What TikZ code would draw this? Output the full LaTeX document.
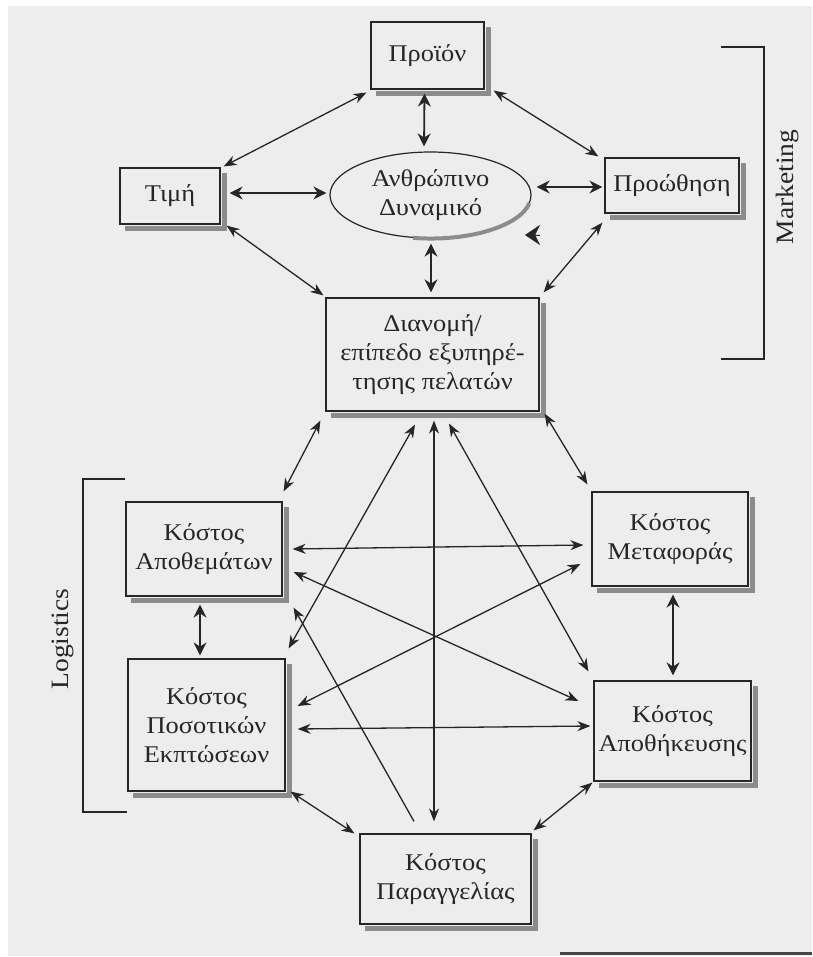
\documentclass[tikz,border=0pt]{standalone}
\usepackage{fontspec}
\setmainfont{Liberation Serif}[FakeStretch=1.1]
\usetikzlibrary{arrows.meta,calc,shapes.geometric}
\definecolor{paper}{RGB}{237,237,237}
\definecolor{ink}{RGB}{38,38,38}
\definecolor{shade}{RGB}{140,140,140}
\newcommand\dropshade[1]{%
  \draw[shadowline] ([xshift=3.6pt,yshift=-6pt]#1.north east) -- ([xshift=3.6pt,yshift=-3.6pt]#1.south east) -- ([xshift=6pt,yshift=-3.6pt]#1.south west);}
\begin{document}
\begin{tikzpicture}[x=1pt,y=-1pt,
  box/.style={draw=ink, line width=1.2pt, fill=paper, inner sep=0pt, align=center,
    text=ink, font=\fontsize{24}{29}\selectfont},
  oval/.style={box, ellipse},
  link/.style={draw=ink, line width=1.3pt, {Stealth[length=13pt,width=10pt]}-{Stealth[length=13pt,width=10pt]}},
  boldlink/.style={draw=ink, line width=1.8pt, {Stealth[length=13pt,width=13pt]}-{Stealth[length=13pt,width=13pt]}},
  onelink/.style={draw=ink, line width=1.3pt, -{Stealth[length=13pt,width=10pt]}},
  bracket/.style={draw=ink, line width=1.2pt},
  side/.style={text=ink, font=\fontsize{25}{28}\selectfont, rotate=90},
  shadowline/.style={draw=shade, line width=5pt}
]
\useasboundingbox (0,0) rectangle (812,957);
\fill[white] (0,0) rectangle (812,957);
\fill[paper] (8,6) rectangle (812,956);
\fill[ink!85] (560,952) rectangle (812,955);

% Marketing group
\node[box, minimum width=113pt, minimum height=67pt] (prod) at (427.5,55.5) {Προϊόν};
\node[box, minimum width=100pt, minimum height=56pt] (price) at (170,196) {Τιμή};
\node[box, minimum width=134pt, minimum height=55pt] (promo) at (672,185.5) {Προώθηση};
\node[oval, minimum width=201pt, minimum height=86pt] (hr) at (430.5,195) {Ανθρώπινο\\Δυναμικό};
\node[box, minimum width=213pt, minimum height=113pt] (dist) at (432.5,354.5) {Διανομή/\\επίπεδο εξυπηρέ-\\τησης πελατών};

% Logistics group
\node[box, minimum width=156pt, minimum height=94pt] (inv) at (204,549) {Κόστος\\Αποθεμάτων};
\node[box, minimum width=157pt, minimum height=132pt] (disc) at (206.5,725) {Κόστος\\Ποσοτικών\\Εκπτώσεων};
\node[box, minimum width=156pt, minimum height=94pt] (trans) at (670,539) {Κόστος\\Μεταφοράς};
\node[box, minimum width=157pt, minimum height=100pt] (store) at (672.5,731) {Κόστος\\Αποθήκευσης};
\node[box, minimum width=171pt, minimum height=90pt] (order) at (445.5,879) {Κόστος\\Παραγγελίας};

% drop shadows: strips along right and bottom edges
\dropshade{prod}
\dropshade{price}
\dropshade{promo}
\dropshade{dist}
\dropshade{inv}
\dropshade{disc}
\dropshade{trans}
\dropshade{store}
\dropshade{order}
\draw[shadowline, line width=4pt] ($(hr.center)+(99,8)$) arc[start angle=-10, end angle=-100, x radius=100.5, y radius=-43];

% side labels and brackets
\node[side] (mkt) at (788,187) {Marketing};
\node[side] (lgs) at (63,639) {Logistics};
\draw[bracket] (721,47) -- (764,47) -- (764,359) -- (721,359);
\draw[bracket] (125,479) -- (83,479) -- (83,812) -- (127,812);

% top connectors
\draw[link] ($(prod.south west)+(-4,3)$) -- ($(price.north east)+(3,-1)$);
\draw[boldlink] ($(price.east)+(9,-3)$) -- ($(hr.west)+(-3,-2)$);
\draw[link] ($(price.south east)+(6,1)$) -- ($(dist.north west)+(-2,-2)$);
\draw[boldlink] ($(prod.south)+(-3,4)$) -- ($(hr.north)+(-6.5,-5)$);
\draw[link] ($(prod.south east)+(9,1)$) -- ($(promo.north west)+(-6,-1)$);
\draw[boldlink] ($(hr.east)+(5,-8)$) -- ($(promo.west)+(-2,1.5)$);
\draw[link] ($(promo.south west)+(-2,9)$) -- ($(dist.north east)+(4,-5)$);
\draw[boldlink] ($(hr.south)+(0.5,5)$) -- ($(dist.north)+(-1.5,-5)$);
\coordinate (strayback) at (540,235);
\coordinate (straytip) at (525,235);
\draw[draw=ink, fill=ink, -{Stealth[length=15pt,width=20pt]}] (strayback) -- (straytip);

% bottom connectors
\draw[link] ($(dist.south west)+(-5,9)$) -- ($(inv.north east)+(1,-10)$);
\draw[link] ($(dist.south east)+(5,2)$) -- ($(trans.north west)+(-4,-7)$);
\draw[link] ($(inv.east)+(10,0)$) -- ($(trans.west)+(-8,6)$);
\draw[link] ($(inv.east)+(11,23)$) -- ($(store.west)+(-15,-30)$);
\draw[link] ($(disc.east)+(12,-19)$) -- ($(trans.west)+(-11,25)$);
\draw[link] ($(disc.east)+(12,4)$) -- ($(store.west)+(-3,-5)$);
\draw[boldlink] ($(inv.south)+(-4,8)$) -- ($(disc.north)+(-6.5,-3)$);
\draw[boldlink] ($(trans.south)+(3,8)$) -- ($(store.north)+(0.5,-5)$);
\draw[link] ($(disc.south east)+(5,0)$) -- ($(order.north west)+(-5,0)$);
\draw[link] ($(store.south west)+(-1,1)$) -- ($(order.north east)+(2,-3)$);
\draw[link] ($(dist.south)+(-17.5,13)$) -- ($(disc.north east)+(3,-10)$);
\draw[onelink] ($(order.north)+(-31.5,-12)$) -- ($(inv.south east)+(11,11)$);
\draw[link] ($(dist.south)+(1.5,9)$) -- ($(order.north)+(-11.5,-12)$);
\draw[link] ($(dist.south)+(16.5,12)$) -- ($(store.north west)+(-5,-9)$);
\end{tikzpicture}
\end{document}
